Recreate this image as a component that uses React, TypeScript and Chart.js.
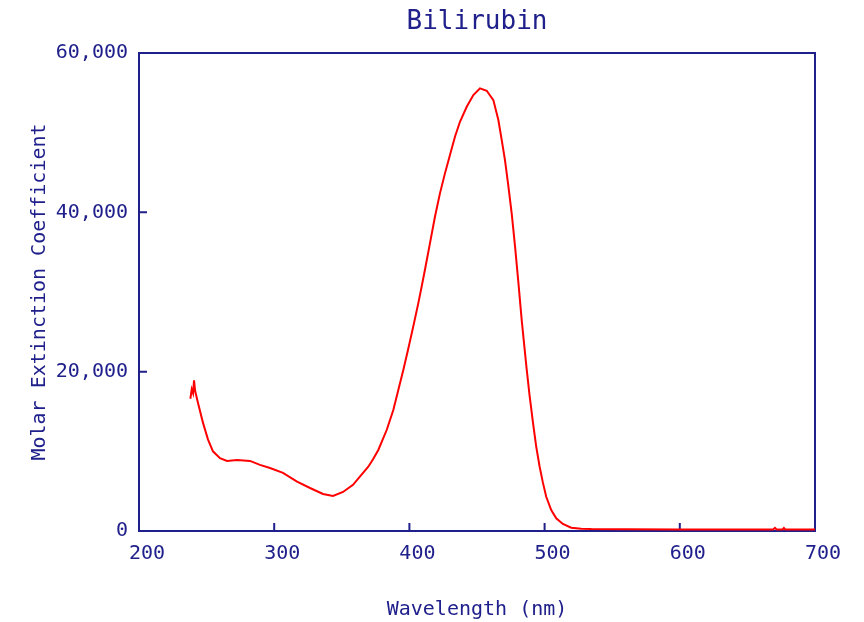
import React, { useEffect, useRef } from 'react';
import Chart from 'chart.js/auto';
import { ChartConfiguration, Plugin } from 'chart.js';

// spectrum
const wavelengths: number[] = [
  238, 239, 240, 240.7, 241.5, 243.6, 247.3, 251, 254.7, 259.9, 265.1, 272.5,
  282.1, 289.5, 296.9, 306.5, 316.9, 326.5, 336.1, 343.5, 350.9, 358.3, 365.7,
  369.6, 373.1, 377, 383.2, 388.1, 391.8, 395.5, 399.2, 402.9, 406.6, 409.1,
  411.5, 415.2, 418.9, 422.6, 426.3, 430, 433.7, 437.4, 442.4, 447.3, 452.2,
  457.2, 462.1, 465.8, 468.3, 470.7, 473.2, 475.7, 478.1, 480.5, 483.1, 486.5,
  488.9, 491.4, 493.8, 496.3, 498.7, 501.2, 504.9, 508.6, 513.5, 519.7, 527.1,
  534.5, 560, 600, 650, 669, 670.4, 671.5, 676, 677, 678, 700,
];

const extinction: number[] = [
  16600, 17800, 17300, 18900, 17600, 16100, 13600, 11500, 10000, 9150, 8800, 8900,
  8800, 8300, 7900, 7300, 6200, 5400, 4650, 4400, 4900, 5800, 7300,
  8070, 9000, 10166, 12676, 15186, 17696, 20206, 22900, 25700, 28600, 30700,
  32800, 36100, 39445, 42381, 44891, 47188, 49485, 51367, 53250, 54718, 55559,
  55258, 54090, 51580, 49070, 46560, 43300, 39800, 35800, 31400, 26400, 20700,
  17000, 13600, 10600, 8100, 6100, 4300, 2636, 1594, 879, 414, 289,
  250, 220, 200, 190, 200, 400, 200, 200, 380, 200, 200,
];

const xTicks = [200, 300, 400, 500, 600, 700];
const yTicks = [0, 20000, 40000, 60000];

const NAVY = '#20208c';
const FONT = "'DejaVu Sans Mono', 'Liberation Mono', monospace";

// box round the plot area plus short inward tick marks
const framePlugin: Plugin = {
  id: 'frame',
  beforeDatasetsDraw(chart) {
    const { ctx, chartArea } = chart;
    const { left, right, top, bottom } = chartArea;
    const xs = chart.scales.x;
    const ys = chart.scales.y;
    ctx.save();
    ctx.strokeStyle = NAVY;
    ctx.lineWidth = 2;
    ctx.strokeRect(left, top, right - left, bottom - top);
    ctx.beginPath();
    xTicks.forEach((v) => {
      const px = xs.getPixelForValue(v);
      ctx.moveTo(px, bottom);
      ctx.lineTo(px, bottom - 8);
    });
    yTicks.forEach((v) => {
      const py = ys.getPixelForValue(v);
      ctx.moveTo(left, py);
      ctx.lineTo(left + 8, py);
    });
    ctx.stroke();
    ctx.restore();
  },
};

const App: React.FC = () => {
  const chartRef = useRef<HTMLCanvasElement>(null);
  const chartInstance = useRef<Chart | null>(null);

  useEffect(() => {
    document.body.style.margin = '0';
    if (!chartRef.current) return;
    if (chartInstance.current) chartInstance.current.destroy();

    const points = wavelengths.map((w, i) => ({ x: w, y: extinction[i] }));

    const config: ChartConfiguration = {
      type: 'line',
      data: {
        datasets: [
          {
            data: points,
            borderColor: '#ff0000',
            borderWidth: 2,
            pointRadius: 0,
            tension: 0,
            fill: false,
          },
        ],
      },
      options: {
        animation: false,
        responsive: true,
        maintainAspectRatio: false,
        layout: { padding: { left: 0, right: 49, top: 0, bottom: 0 } },
        plugins: {
          legend: { display: false },
          tooltip: { enabled: false },
          title: {
            display: true,
            text: 'Bilirubin',
            color: NAVY,
            fullSize: false,
            font: { family: FONT, size: 26, weight: 'normal' },
            padding: { top: 7, bottom: 14.8 },
          },
        },
        scales: {
          x: {
            type: 'linear',
            min: 200,
            max: 700,
            grid: { display: false, drawTicks: false },
            border: { display: false },
            ticks: {
              stepSize: 100,
              color: NAVY,
              padding: 11,
              labelOffset: 8,
              font: { family: FONT, size: 20 },
            },
            title: {
              display: true,
              text: 'Wavelength (nm)',
              color: NAVY,
              font: { family: FONT, size: 20 },
              padding: { top: 5, bottom: 0 },
            },
            afterFit: (scale) => {
              scale.height = 91;
            },
          },
          y: {
            type: 'linear',
            min: 0,
            max: 60000,
            grid: { display: false, drawTicks: false },
            border: { display: false },
            ticks: {
              stepSize: 20000,
              color: NAVY,
              padding: 11,
              font: { family: FONT, size: 20 },
              callback: (v) => Number(v).toLocaleString('en-US'),
            },
            title: {
              display: true,
              text: 'Molar Extinction Coefficient',
              color: NAVY,
              font: { family: FONT, size: 20 },
              padding: { top: 28, bottom: 0 },
            },
            afterFit: (scale) => {
              scale.width = 139;
            },
          },
        },
      },
      plugins: [framePlugin],
    };

    chartInstance.current = new Chart(chartRef.current, config);

    return () => {
      if (chartInstance.current) {
        chartInstance.current.destroy();
        chartInstance.current = null;
      }
    };
  }, []);

  return (
    <div style={{ width: 864, height: 622, position: 'relative' }}>
      <canvas ref={chartRef}></canvas>
    </div>
  );
};

export default App;
